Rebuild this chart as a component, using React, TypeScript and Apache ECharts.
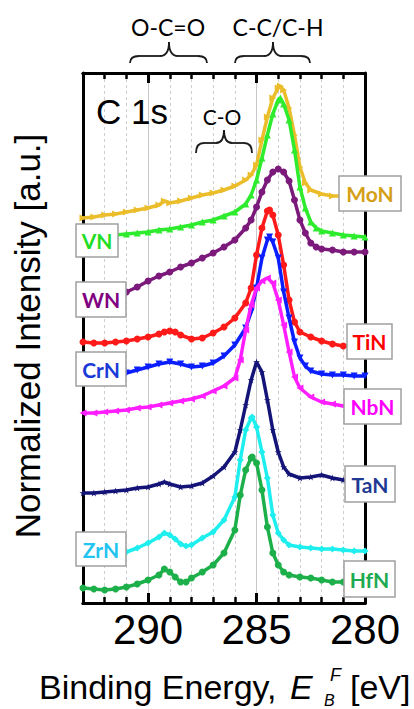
import React, { useEffect, useRef } from 'react';
import * as echarts from 'echarts';

// Binding energy [eV], normalized intensity [a.u.] (stacked with offsets)
const MoN: [number, number][] = [[293,385],[292.5,386],[292,388],[291.5,389],[291,391],[290.5,393],[290,395],[289.5,398],[289.25,402],[289,400],[288.5,402],[288,405],[287.5,408],[287,410],[286.5,413],[286,417],[285.5,423],[285.25,428],[285,438],[284.75,463],[284.5,486],[284.25,505],[284,515],[283.9,517],[283.75,513],[283.5,495],[283.25,468],[283,436],[282.75,420],[282.5,413],[282,409],[281.5,407],[281,407],[280.5,407],[280,407]];
const VN: [number, number][] = [[293,366],[292.5,366],[292,367],[291.5,368],[291,369],[290.5,370],[290,371],[289.5,373],[289,374],[288.5,376],[288,378],[287.5,381],[287,383],[286.5,387],[286,391],[285.5,399],[285.25,408],[285,423],[284.75,445],[284.5,468],[284.25,489],[284,503],[283.9,505],[283.75,499],[283.5,483],[283.25,453],[283,416],[282.75,395],[282.5,381],[282.25,375],[282,372],[281.5,370],[281,368],[280.5,367],[280,366]];
const WN: [number, number][] = [[293,304],[292.5,306],[292,308],[291.5,309],[291,311],[290.5,316],[290,322],[289.5,327],[289,331],[288.5,336],[288,340],[287.5,345],[287,350],[286.5,356],[286,363],[285.5,375],[285.25,383],[285,396],[284.75,411],[284.5,423],[284.25,431],[284,434],[283.75,431],[283.5,422],[283.25,403],[283,383],[282.75,370],[282.5,360],[282.25,356],[282,354],[281.5,353],[281,351],[280.5,351],[280,351]];
const TiN: [number, number][] = [[293,261],[292.5,260],[292,260],[291.5,261],[291,262],[290.5,264],[290,266],[289.5,269],[289.25,271],[289,272],[288.75,271],[288.5,268],[288,264],[287.5,265],[287,270],[286.5,276],[286,285],[285.5,300],[285.25,315],[285,348],[284.75,375],[284.5,392],[284.4,393],[284.25,388],[284,368],[283.75,338],[283.5,303],[283.25,281],[283,271],[282.5,266],[282,262],[281.5,259],[281,257],[280.5,256],[280,256]];
const CrN: [number, number][] = [[293,229],[292.5,229],[292,229],[291.5,230],[291,230],[290.5,233],[290,236],[289.5,239],[289,241],[288.5,239],[288,236],[287.5,237],[287,240],[286.5,247],[286,258],[285.5,275],[285.25,291],[285,315],[284.75,345],[284.5,363],[284.4,366],[284.25,361],[284,345],[283.75,311],[283.5,285],[283.25,261],[283,245],[282.75,237],[282.5,232],[282,229],[281.5,228],[281,228],[280.5,227],[280,227]];
const NbN: [number, number][] = [[293,190],[292.5,190],[292,191],[291.5,192],[291,193],[290.5,195],[290,196],[289.5,198],[289,200],[288.5,202],[288,204],[287.5,207],[287,212],[286.5,217],[286,225],[285.75,243],[285.5,273],[285.25,298],[285,315],[284.75,322],[284.5,325],[284.25,320],[284,303],[283.75,278],[283.5,251],[283.25,226],[283,215],[282.5,206],[282,201],[281.5,199],[281,197],[280.5,197],[280,197]];
const TaN: [number, number][] = [[293,110],[292.5,110],[292,111],[291.5,112],[291,113],[290.5,115],[290,116],[289.5,119],[289.25,121],[289,119],[288.5,116],[288,117],[287.5,120],[287,127],[286.5,136],[286,151],[285.75,173],[285.5,198],[285.25,223],[285,241],[284.75,231],[284.5,203],[284.25,173],[284,151],[283.75,136],[283.5,129],[283,125],[282.5,126],[282,128],[281.5,125],[281,123],[280.5,122],[280,122]];
const ZrN: [number, number][] = [[293,46],[292.5,47],[292,48],[291.5,49],[291,51],[290.5,55],[290,60],[289.5,66],[289.25,70],[289,68],[288.75,64],[288.5,59],[288.25,57],[288,58],[287.5,65],[287,71],[286.5,83],[286,106],[285.75,143],[285.5,173],[285.25,185],[285.2,186],[285,176],[284.75,151],[284.5,125],[284.25,88],[284,70],[283.75,63],[283.5,58],[283,56],[282.5,55],[282,54],[281.5,54],[281,53],[280.5,52],[280,52]];
const HfN: [number, number][] = [[293,15],[292.5,14],[292,13],[291.5,14],[291,16],[290.5,19],[290,23],[289.5,28],[289.25,34],[289,31],[288.75,26],[288.5,21],[288.25,21],[288,25],[287.5,31],[287,38],[286.5,50],[286,73],[285.75,108],[285.5,133],[285.25,145],[285.2,146],[285,140],[284.75,113],[284.5,76],[284.25,50],[284,38],[283.75,31],[283.5,28],[283,26],[282.5,25],[282,23],[281.5,21],[281,21],[280.5,20],[280,20]];

const X_MIN = 280;
const X_MAX = 293;
const Y_MIN = 0;
const Y_MAX = 530;

const STAR = 'path://M50,0L61.2,34.5L97.6,34.5L68.2,55.9L79.4,90.5L50,69.1L20.6,90.5L31.8,55.9L2.4,34.5L38.8,34.5Z';

const SERIES = [
  { name: 'MoN', data: MoN, color: '#EBBD2A', symbol: 'triangle', rotate: -90 },
  { name: 'VN', data: VN, color: '#2EEB2E', symbol: 'triangle', rotate: 0 },
  { name: 'WN', data: WN, color: '#7B1A7B', symbol: 'circle', rotate: 0 },
  { name: 'TiN', data: TiN, color: '#FF1A1A', symbol: 'circle', rotate: 0 },
  { name: 'CrN', data: CrN, color: '#0A1EFF', symbol: 'triangle', rotate: 180 },
  { name: 'NbN', data: NbN, color: '#FF1EFF', symbol: 'triangle', rotate: 90 },
  { name: 'TaN', data: TaN, color: '#141478', symbol: STAR, rotate: 0 },
  { name: 'ZrN', data: ZrN, color: '#1EEEEE', symbol: 'diamond', rotate: 0 },
  { name: 'HfN', data: HfN, color: '#1DB04A', symbol: 'circle', rotate: 0 },
];

// label boxes: [name, text colour, left, top, right, bottom]
const LABEL_BOXES: [string, string, number, number, number, number][] = [
  ['MoN', '#D4A017', 339, 176, 401, 211],
  ['VN', '#22DD22', 76, 224, 118, 257],
  ['WN', '#800080', 76, 282, 126, 317],
  ['CrN', '#1A3AD8', 76, 352, 126, 386],
  ['ZrN', '#22C4F0', 76, 532, 126, 566],
  ['TiN', '#FF0000', 347, 324, 392, 359],
  ['NbN', '#FF00FF', 344, 389, 401, 424],
  ['TaN', '#1F3A93', 345, 466, 395, 502],
  ['HfN', '#1DAA50', 344, 561, 395, 597],
];

function brace(x1: number, x2: number, xt: number, yTip: number, yMid: number, yEnd: number, r: number) {
  const st = { stroke: '#1a1a1a', lineWidth: 1.8, fill: null as any };
  return [
    { type: 'bezierCurve', shape: { x1, y1: yEnd, cpx1: x1, cpy1: yMid, x2: x1 + r, y2: yMid }, style: st, z: 100 },
    { type: 'line', shape: { x1: x1 + r, y1: yMid, x2: xt - r, y2: yMid }, style: st, z: 100 },
    { type: 'bezierCurve', shape: { x1: xt - r, y1: yMid, cpx1: xt, cpy1: yMid, x2: xt, y2: yTip }, style: st, z: 100 },
    { type: 'bezierCurve', shape: { x1: xt, y1: yTip, cpx1: xt, cpy1: yMid, x2: xt + r, y2: yMid }, style: st, z: 100 },
    { type: 'line', shape: { x1: xt + r, y1: yMid, x2: x2 - r, y2: yMid }, style: st, z: 100 },
    { type: 'bezierCurve', shape: { x1: x2 - r, y1: yMid, cpx1: x2, cpy1: yMid, x2, y2: yEnd }, style: st, z: 100 },
  ];
}

export default function App() {
  const ref = useRef<HTMLDivElement>(null);
  useEffect(() => {
    if (!ref.current) return;
    const chart = echarts.init(ref.current, undefined, { renderer: 'svg' });
    const axisLine = { show: true, lineStyle: { color: '#000', width: 3 } };
    const xBase = { type: 'value', min: X_MIN, max: X_MAX, inverse: true, gridIndex: 0 };
    const xAxes = [
      {
        ...xBase, position: 'bottom', interval: 1, axisLine,
        axisTick: { show: true, inside: true, length: 6, lineStyle: { color: '#000', width: 2.5 } },
        axisLabel: { show: false },
        splitLine: { show: true, lineStyle: { color: '#CDCDCD', width: 1, type: [3, 3] } },
      },
      {
        ...xBase, position: 'bottom', interval: 5, axisLine,
        axisTick: { show: true, inside: true, length: 10, lineStyle: { color: '#000', width: 3 } },
        axisLabel: {
          show: true, fontSize: 42, color: '#000', fontFamily: 'Liberation Sans, Arial, sans-serif', margin: 5,
          formatter: (v: number) => (Math.round(v) % 5 === 0 ? String(Math.round(v)) : ''),
        },
        splitLine: { show: true, lineStyle: { color: '#C8C8C8', width: 1, type: 'solid' } },
      },
      {
        ...xBase, position: 'top', interval: 1, axisLine,
        axisTick: { show: true, inside: true, length: 6, lineStyle: { color: '#000', width: 2.5 } },
        axisLabel: { show: false }, splitLine: { show: false },
      },
      {
        ...xBase, position: 'top', interval: 5, axisLine,
        axisTick: { show: true, inside: true, length: 10, lineStyle: { color: '#000', width: 3 } },
        axisLabel: { show: false }, splitLine: { show: false },
      },
    ];
    const yBase = { type: 'value', min: Y_MIN, max: Y_MAX, axisLine, axisTick: { show: false }, axisLabel: { show: false }, splitLine: { show: false } };
    const yAxes = [{ ...yBase, position: 'left' }, { ...yBase, position: 'right' }];

    const graphics: any[] = [];
    const F = 'Liberation Sans, Arial, sans-serif';
    // y axis title
    graphics.push({
      type: 'text', x: 27, y: 336, rotation: Math.PI / 2, z: 100,
      style: { text: 'Normalized Intensity [a.u.]', font: `35px ${F}`, fill: '#000', align: 'center', verticalAlign: 'middle' },
    });
    // x axis title
    graphics.push({ type: 'text', x: 39, y: 687, z: 100, style: { text: 'Binding Energy,', font: `34px ${F}`, fill: '#000', align: 'left', verticalAlign: 'middle' } });
    graphics.push({ type: 'text', x: 290, y: 687, z: 100, style: { text: 'E', font: `italic 34px ${F}`, fill: '#000', align: 'left', verticalAlign: 'middle' } });
    graphics.push({ type: 'text', x: 330, y: 675, z: 100, style: { text: 'F', font: `italic 18px ${F}`, fill: '#000', align: 'left', verticalAlign: 'middle' } });
    graphics.push({ type: 'text', x: 324, y: 700, z: 100, style: { text: 'B', font: `italic 16px ${F}`, fill: '#000', align: 'left', verticalAlign: 'middle' } });
    graphics.push({ type: 'text', x: 350, y: 687, z: 100, style: { text: '[eV]', font: `34px ${F}`, fill: '#000', align: 'left', verticalAlign: 'middle' } });
    // panel text
    graphics.push({ type: 'text', x: 96, y: 111, z: 100, style: { text: 'C 1s', font: `35px ${F}`, fill: '#000', align: 'left', verticalAlign: 'middle' } });
    graphics.push({ type: 'text', x: 168, y: 27, z: 100, style: { text: 'O-C=O', font: '23px Lato, Open Sans, sans-serif', fill: '#000', align: 'center', verticalAlign: 'middle' } });
    graphics.push({ type: 'text', x: 278, y: 27, z: 100, style: { text: 'C-C/C-H', font: '23px Lato, Open Sans, sans-serif', fill: '#000', align: 'center', verticalAlign: 'middle' } });
    graphics.push({ type: 'text', x: 222, y: 116, z: 100, style: { text: 'C-O', font: '21px Lato, Open Sans, sans-serif', fill: '#000', align: 'center', verticalAlign: 'middle' } });
    graphics.push(...brace(130, 207, 169, 42, 56, 63, 9));
    graphics.push(...brace(235, 310, 273, 42, 56, 63, 9));
    graphics.push(...brace(196, 252, 224, 130, 143, 153, 8));
    // label boxes
    LABEL_BOXES.forEach(([name, color, l, t, r, b]) => {
      graphics.push({ type: 'rect', z: 100, shape: { x: l, y: t, width: r - l, height: b - t }, style: { fill: '#fff', stroke: '#A0A0A0', lineWidth: 1.5 } });
      graphics.push({ type: 'text', z: 101, x: (l + r) / 2, y: (t + b) / 2, style: { text: name, font: 'bold 21px Lato, Open Sans, sans-serif', fill: color, align: 'center', verticalAlign: 'middle' } });
    });

    chart.setOption({
      animation: false,
      backgroundColor: '#fff',
      grid: { left: 83, right: 49, top: 73, bottom: 106, containLabel: false },
      xAxis: xAxes,
      yAxis: yAxes,
      series: SERIES.map((s, i) => ({
        name: s.name,
        type: 'line',
        xAxisIndex: 0,
        yAxisIndex: 0,
        data: s.data,
        symbol: s.symbol,
        symbolRotate: s.rotate,
        symbolSize: 7,
        showSymbol: true,
        lineStyle: { color: s.color, width: 3.5 },
        itemStyle: { color: s.color },
        z: 2 + i * 0.01,
        silent: true,
      })),
      graphic: graphics,
    });
    return () => chart.dispose();
  }, []);
  return <div ref={ref} style={{ position: 'fixed', left: 0, top: 0, width: 414, height: 709 }} />;
}
